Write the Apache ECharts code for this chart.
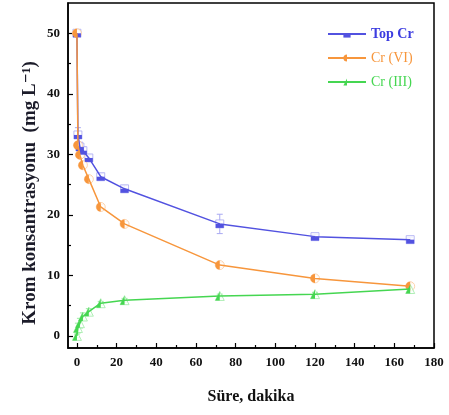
<!DOCTYPE html>
<html>
<head>
<meta charset="utf-8">
<script src="https://cdn.jsdelivr.net/npm/echarts@6/dist/echarts.min.js"></script>
<style>html,body{margin:0;padding:0;background:#fff}#c{width:449px;height:415px}</style>
</head>
<body>
<div id="c"></div>
<script>
var times = [0, 0.5, 1.5, 3, 6, 12, 24, 72, 120, 168];
var topCr = [50, 33.2, 31.2, 30.6, 29.4, 26.3, 24.3, 18.5, 16.4, 15.9];
var crVI = [50, 31.5, 29.9, 28.2, 25.9, 21.3, 18.5, 11.7, 9.5, 8.2];
var crIII = [0, 1.3, 2.1, 3.2, 4.0, 5.4, 5.9, 6.6, 6.9, 7.75];
var topErr = [0.5, 1.2, 0.8, 0.6, 0.5, 0.5, 0.5, 1.6, 0.4, 0.4];
var crVIErr = [0.5, 0.6, 0.5, 0.5, 0.5, 0.4, 0.4, 0.4, 0.4, 0.4];
var crIIIErr = [0.3, 0.8, 0.8, 0.6, 0.5, 0.3, 0.3, 0.3, 0.3, 0.3];
var xMajor = [0, 20, 40, 60, 80, 100, 120, 140, 160, 180];
var xMinor = [10, 30, 50, 70, 90, 110, 130, 150, 170];
var yMajor = [0, 10, 20, 30, 40, 50];
var yMinor = [5, 15, 25, 35, 45];

var names = ['Top Cr', 'Cr (VI)', 'Cr (III)'];
var values = [topCr, crVI, crIII];
var errs = [topErr, crVIErr, crIIIErr];
var colors = ['#5252e0', '#f7963c', '#45d651'];
var lightColors = ['#a9a9f2', '#fbc89a', '#9deba5'];
var outlineSym = ['rect', 'circle', 'triangle'];
var halfSym = [
  'path://M0,0 M10,0 M0,5 L10,5 L10,10 L0,10 Z',
  'path://M10,0 M10,10 M5,0 A5,5 0 0 0 5,10 Z',
  'path://M10,10 M0,0 M5,0 L5,10 L0,10 Z'
];
var symSize = [8, 9, 9];

function pairs(v) { return times.map(function (t, i) { return [t, v[i]]; }); }

var SERIF = '"Liberation Serif", "DejaVu Serif", serif';
var series = [];
values.forEach(function (v, k) {
  series.push({
    type: 'custom', silent: true, z: 1,
    data: times.map(function (t, i) { return [t, v[i] - errs[k][i], v[i] + errs[k][i]]; }),
    renderItem: function (params, api) {
      var lo = api.coord([api.value(0), api.value(1)]);
      var hi = api.coord([api.value(0), api.value(2)]);
      var w = 3;
      return {
        type: 'group',
        children: [
          { type: 'line', shape: { x1: lo[0], y1: lo[1], x2: hi[0], y2: hi[1] }, style: { stroke: lightColors[k], lineWidth: 1 } },
          { type: 'line', shape: { x1: lo[0] - w, y1: lo[1], x2: lo[0] + w, y2: lo[1] }, style: { stroke: lightColors[k], lineWidth: 1 } },
          { type: 'line', shape: { x1: hi[0] - w, y1: hi[1], x2: hi[0] + w, y2: hi[1] }, style: { stroke: lightColors[k], lineWidth: 1 } }
        ]
      };
    }
  });
});
values.forEach(function (v, k) {
  series.push({
    type: 'scatter', silent: true, z: 2,
    data: pairs(v), symbol: outlineSym[k], symbolSize: symSize[k],
    itemStyle: { color: '#fff', borderColor: lightColors[k], borderWidth: 1 }
  });
});
values.forEach(function (v, k) {
  series.push({
    name: names[k], type: 'line', z: 3 + k,
    data: pairs(v), symbol: halfSym[k], symbolSize: symSize[k],
    showAllSymbol: true,
    itemStyle: { color: colors[k] },
    lineStyle: { color: colors[k], width: 1.5 }
  });
});

var chart = echarts.init(document.getElementById('c'));
chart.setOption({
  animation: false,
  backgroundColor: '#fff',
  grid: { left: 68, top: 3, width: 366, height: 345, show: true, borderColor: '#000', borderWidth: 1.5, backgroundColor: '#fff' },
  legend: {
    orient: 'vertical', left: 322, top: 22, itemWidth: 38, itemHeight: 9, itemGap: 10,
    data: [
      { name: 'Top Cr', textStyle: { color: '#3c3ce0', fontWeight: 'bold', fontSize: 14, fontFamily: SERIF } },
      { name: 'Cr (VI)', textStyle: { color: '#f7963c', fontSize: 14, fontFamily: SERIF } },
      { name: 'Cr (III)', textStyle: { color: '#45d651', fontSize: 14, fontFamily: SERIF } }
    ]
  },
  xAxis: [{
    type: 'value', min: -4.5, max: 180,
    name: 'Süre, dakika', nameLocation: 'middle', nameGap: 41,
    nameTextStyle: { fontFamily: SERIF, fontWeight: 'bold', fontSize: 16, color: '#111' },
    axisLine: { show: true, onZero: false, lineStyle: { color: '#000', width: 1.5 } },
    axisTick: { show: true, inside: true, length: 5, customValues: xMajor, lineStyle: { color: '#000', width: 1.2 } },
    axisLabel: { customValues: xMajor, margin: 8, fontFamily: SERIF, fontWeight: 'bold', fontSize: 13, color: '#111' },
    splitLine: { show: false }
  }, {
    type: 'value', min: -4.5, max: 180, position: 'bottom',
    axisLine: { show: false, onZero: false },
    axisTick: { show: true, inside: true, length: 3, customValues: xMinor, lineStyle: { color: '#000', width: 1.2 } },
    axisLabel: { show: false },
    splitLine: { show: false }
  }],
  yAxis: [{
    type: 'value', min: -2, max: 55,
    axisLine: { show: true, onZero: false, lineStyle: { color: '#000', width: 1.5 } },
    axisTick: { show: true, inside: true, length: 5, customValues: yMajor, lineStyle: { color: '#000', width: 1.2 } },
    axisLabel: { customValues: yMajor, margin: 8, fontFamily: SERIF, fontWeight: 'bold', fontSize: 13, color: '#111' },
    splitLine: { show: false }
  }, {
    type: 'value', min: -2, max: 55, position: 'left',
    axisLine: { show: false, onZero: false },
    axisTick: { show: true, inside: true, length: 3, customValues: yMinor, lineStyle: { color: '#000', width: 1.2 } },
    axisLabel: { show: false },
    splitLine: { show: false }
  }],
  graphic: [{
    type: 'text', x: 30, y: 193, rotation: Math.PI / 2,
    style: { text: 'Krom konsantrasyonu  (mg L⁻¹)', font: 'bold 19px ' + SERIF, fill: '#1c1c2a', align: 'center', verticalAlign: 'middle' }
  }],
  series: series
});
</script>
</body>
</html>
